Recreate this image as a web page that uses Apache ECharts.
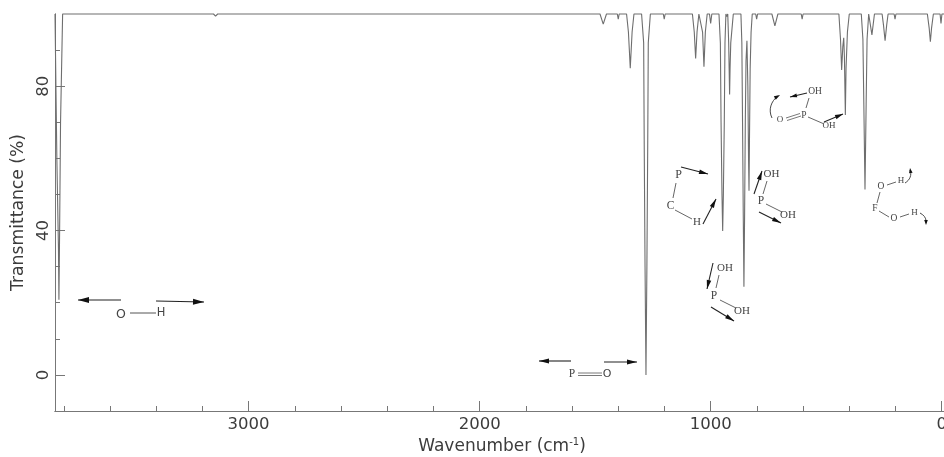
<!DOCTYPE html>
<html>
<head>
<meta charset="utf-8">
<style>html,body{margin:0;padding:0;background:#fff;overflow:hidden}#c{width:944px;height:457px}</style>
<script src="https://cdn.jsdelivr.net/npm/echarts@6/dist/echarts.min.js"></script>
</head>
<body>
<div id="c"></div>
<script>
const wavenumber = [3838,3830,3823,3821,3818,3814,3805,3152,3143,3134,
1479,1465,1451,1404,1400,1396,
1364,1356,1352,1348,1344,1340,1332,
1299,1290,1287.5,1284,1280,1276,1272.5,1270,1261,
1205,1201,1197,
1079,1071,1065,1059,1051,
1043,1035,1029,1023,1015,
1005,1000,995,
964,958,955,951,948,945,941,938,934,930,926,922,920,918,916,913,902,
869,865,862,859,856,853,850,847,843,839,836,834,832,829,825,820,
805,801,797,
735,722,709,
608,604,600,
445,438,433,428,424,421,417,414,408,400,
375,371,367,
348,341,337,332,327,323,316,
313,302,291,
258,252,245,238,232,
206,202,198,
62,54,49,44,36,
7,3,-1,-10];
const transmittance = [100,60,35,20.8,40,70,100,100,99.4,100,
100,97.2,100,100,98.6,100,
100,95,90,85,90,95,100,
100,92,63,30,0,30,63,92,100,
100,98.6,100,
100,95,87.7,95,100,
100,95,85.4,95,100,
100,97.4,100,
100,92,70,50,39.9,50,70,92,100,99.3,100,92,85,77.7,85,92,100,
100,92,70,45,24.4,45,70,87,92.6,80,60,51,65,85,95,100,
100,98.6,100,
100,96.7,100,
100,98.6,100,
100,93,84.5,91,93.4,88,72,85,95,100,
100,99.5,100,
100,93,75,51.4,75,93,100,
100,94.2,100,
100,97,92.6,97,100,
100,98.6,100,
100,96,92.3,96,100,
100,97.4,100,100];
const xMajorTicks = [0,1000,2000,3000];
const xMinorTicks = [200,400,600,800,1200,1400,1600,1800,2200,2400,2600,2800,3200,3400,3600,3800];
const yMajorTicks = [0,40,80];
const yMinorTicks = [10,20,30,50,60,70,90];
const xTitle = 'Wavenumber';
const yTitle = 'Transmittance (%)';

const axisColor = '#777', textColor = '#3c3c3c', font = 'DejaVu Sans';
const points = wavenumber.map((w, i) => [w, transmittance[i]]);

function line(pts, w, col) {
  return {type:'polyline', z:50, shape:{points:pts}, style:{stroke:col||'#555', lineWidth:w||0.9, fill:null}};
}
function head(a, b, len, wid) {
  const dx=b[0]-a[0], dy=b[1]-a[1], d=Math.hypot(dx,dy), ux=dx/d, uy=dy/d;
  const l=len||9, hw=wid||2.4;
  return {type:'polygon', z:51, shape:{points:[b,[b[0]-ux*l-uy*hw,b[1]-uy*l+ux*hw],[b[0]-ux*l+uy*hw,b[1]-uy*l-ux*hw]]}, style:{fill:'#111'}};
}
function arrow(a, b, len, wid) {
  return [line([a,b],1.1,'#222'), head(a,b,len,wid)];
}
function atom(s, x, y, size, fam) {
  return {type:'text', z:52, x:x, y:y, style:{text:s, fill:'#444', font:(size||10)+'px '+(fam||'Liberation Serif'), textAlign:'center', textVerticalAlign:'middle'}};
}
function curve(pts, w) {
  return {type:'bezierCurve', z:50, shape:{x1:pts[0][0],y1:pts[0][1],cpx1:pts[1][0],cpy1:pts[1][1],cpx2:pts[2][0],cpy2:pts[2][1],x2:pts[3][0],y2:pts[3][1]}, style:{stroke:'#333', lineWidth:w||0.9, fill:null}};
}
const notes = [].concat(
  // O-H stretch
  arrow([121,300],[78,300],11,3), arrow([156,301],[204,302],11,3),
  atom('O',121,315,12.5,'DejaVu Sans'), line([[130,313],[156,313]],1), atom('H',161,313,11.5,'DejaVu Sans'),
  // P=O stretch
  arrow([571,361],[539,361],10,2.6), arrow([604,362],[637,362],10,2.6),
  atom('P',572,374,11.5), line([[578,373],[602,373]],0.8), line([[578,375.5],[602,375.5]],0.8), atom('O',607,374.5,11,'DejaVu Sans'),
  // P-C-H
  atom('P',678.5,174.5,12), atom('C',670.5,206,11.5), atom('H',697,222.5,11),
  line([[676,183],[673,198]]), line([[675,210],[692,219]]),
  arrow([681,167],[708,174],9,2.3), arrow([703,224],[716,199],9,2.3),
  // P(OH)2 upper
  atom('P',761,201,11.5), atom('OH',771.5,174,11), atom('OH',788,215,11),
  line([[767,181],[763,194]]), line([[766,204],[782,212]]),
  arrow([754,194],[762,171],9,2.3), arrow([759,212],[781,223],9,2.3),
  // P(OH)2 lower
  atom('P',714,296,11.5), atom('OH',725,268,11), atom('OH',742,311,11),
  line([[719,275],[716,288]]), line([[720,300],[736,308]]),
  arrow([713,263],[707,289],9,2.3), arrow([711,307],[734,321],9,2.3),
  // top O=P(OH)2
  atom('OH',815,91.5,9.5), atom('P',804,115,9.5), atom('O',780,120,9), atom('OH',829,125.5,9),
  line([[786,118],[800,113.5]],0.8), line([[787,120.5],[801,116]],0.8),
  line([[806,108],[809,98]]), line([[808,117],[823,123.5]]),
  arrow([807,93],[790,97],7,2), arrow([824,122],[843,114],8,2.2),
  [curve([[772,118],[768,110],[771,101],[778,96]]), head([773,99],[780,95],6,2)],
  // right P(OH)2 wag
  atom('F',875,208,9.5), atom('O',881,186,9.5), atom('H',901,181,9), atom('O',894,218,9.5), atom('H',914.5,213,9),
  line([[880,192],[877,203]]), line([[887,185],[896,182]]), line([[879,211],[889,217]]), line([[900,217],[909,214]]),
  [curve([[905,183],[910,180],[912,175],[910,170]]), head([911,174],[910,168],5,1.8)],
  [curve([[920,213],[924,215],[926,218],[926,221]]), head([926,220],[926,225],5,1.8)]
);
const flatNotes = [].concat.apply([], notes);

function valueAxis(common, extra) { return Object.assign({}, common, extra); }
const xCommon = {type:'value', inverse:true, min:-10, max:3838, position:'bottom', splitLine:{show:false}, axisLine:{onZero:false,lineStyle:{color:axisColor,width:1}}};
const yCommon = {type:'value', min:-10, max:100, position:'left', splitLine:{show:false}, axisLine:{onZero:false,lineStyle:{color:axisColor,width:1}}};

const chart = echarts.init(document.getElementById('c'), null, {renderer:'canvas'});
chart.setOption({
  animation:false,
  backgroundColor:'#fff',
  grid:{left:55, right:0, top:14, bottom:46, containLabel:false, outerBoundsMode:'none'},
  xAxis:[
    valueAxis(xCommon,{
      name:'{a|'+xTitle+' (cm}{s|-1}{a|)}', nameLocation:'middle', nameGap:25,
      nameTextStyle:{rich:{a:{fontFamily:font,fontSize:17,color:textColor},s:{fontFamily:font,fontSize:10,color:textColor,verticalAlign:'top',padding:[0,0,6,0]}},padding:[0,0,0,5]},
      axisTick:{show:true,inside:true,length:10,customValues:xMajorTicks,lineStyle:{color:axisColor}},
      axisLabel:{show:true,customValues:xMajorTicks,margin:5,fontFamily:font,fontSize:16.5,color:textColor,hideOverlap:false,showMinLabel:true,showMaxLabel:true,formatter:v=>String(v)}
    }),
    valueAxis(xCommon,{
      axisTick:{show:true,inside:true,length:5,customValues:xMinorTicks,lineStyle:{color:axisColor}},
      axisLabel:{show:false}
    })
  ],
  yAxis:[
    valueAxis(yCommon,{
      name:yTitle, nameLocation:'middle', nameGap:24, nameRotate:90,
      nameTextStyle:{fontFamily:font,fontSize:17.2,color:textColor},
      axisTick:{show:true,inside:true,length:10,customValues:yMajorTicks,lineStyle:{color:axisColor}},
      axisLabel:{show:true,customValues:yMajorTicks,rotate:90,margin:3,fontFamily:font,fontSize:16.5,color:textColor}
    }),
    valueAxis(yCommon,{
      axisTick:{show:true,inside:true,length:5,customValues:yMinorTicks,lineStyle:{color:axisColor}},
      axisLabel:{show:false}
    })
  ],
  series:[{
    type:'line', data:points, xAxisIndex:0, yAxisIndex:0, showSymbol:false, symbol:'none',
    smooth:false, clip:false, lineStyle:{color:'#6e6e6e',width:1.1,join:'bevel'}
  }],
  graphic:{elements:flatNotes}
});
</script>
</body>
</html>
